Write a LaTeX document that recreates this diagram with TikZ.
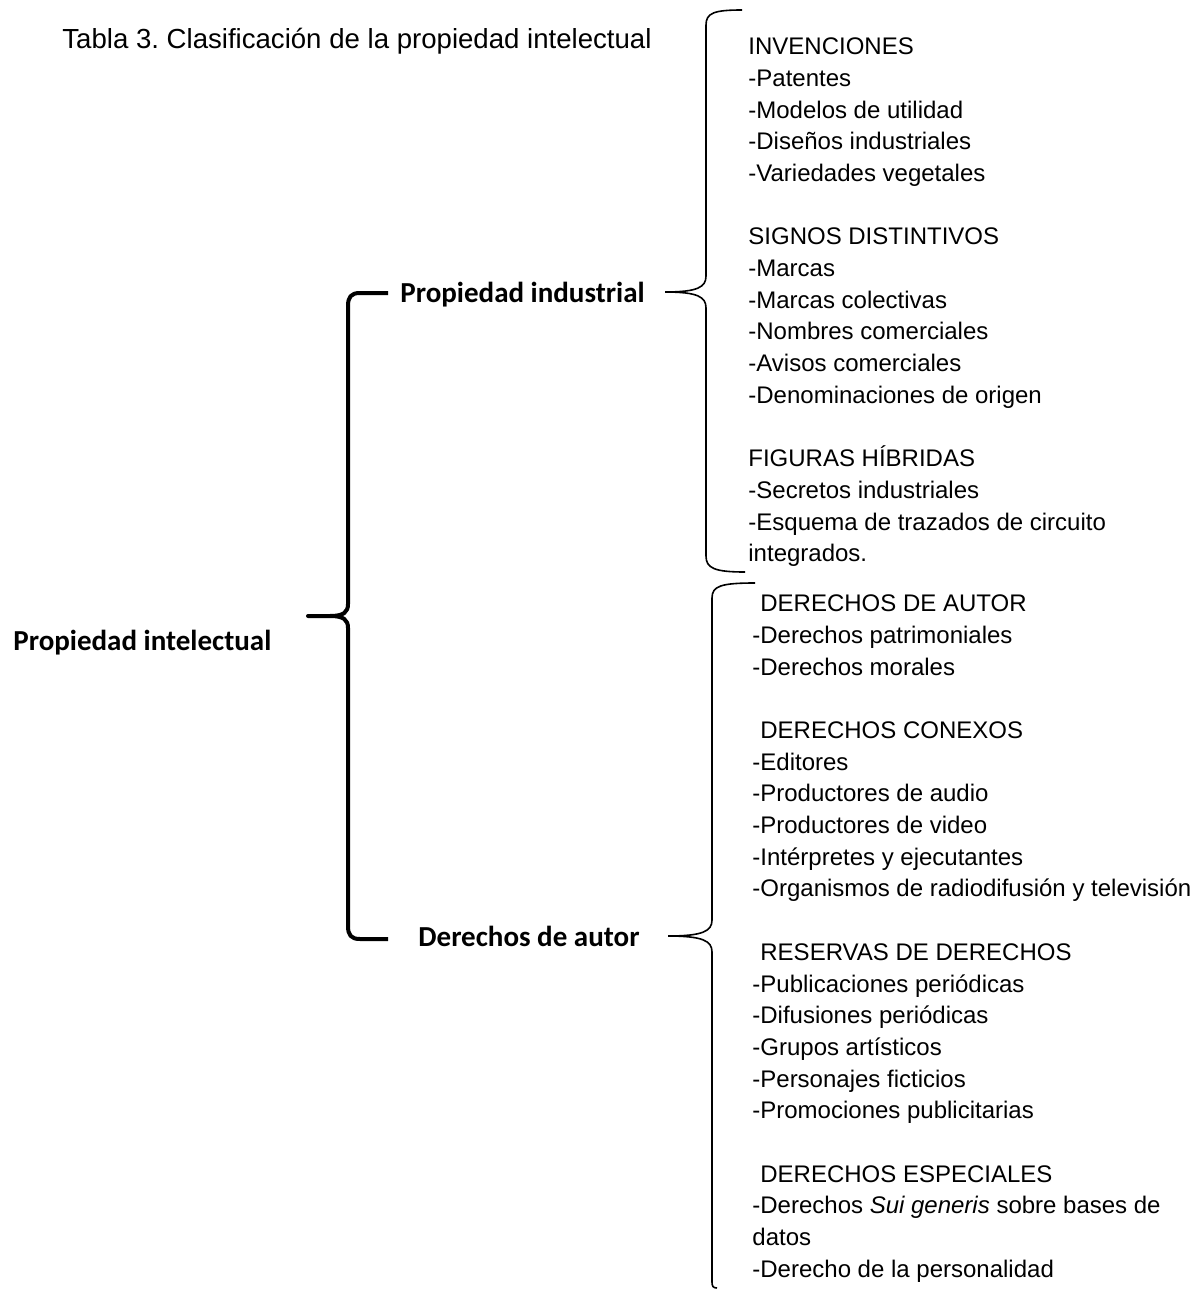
\documentclass[tikz,border=0pt]{standalone}
\usepackage{fontspec}
\setmainfont{Liberation Sans}
\newfontfamily\calibri{Carlito}
\usetikzlibrary{positioning}
\frenchspacing

\begin{document}
\begin{tikzpicture}[x=0.5pt, y=-0.5pt,
    lbl/.style={font=\calibri\bfseries\fontsize{14.5}{17}\selectfont, inner sep=0pt, anchor=base west},
    lst/.style={font=\fontsize{12}{15.85}\selectfont, align=left, inner sep=0pt, anchor=north west},
    bigbrace/.style={line width=2pt, line join=round},
    brace/.style={line width=0.8pt}]
  \useasboundingbox (0,0) rectangle (1197,1289);
  % Title
  \node[font=\fontsize{13.8}{16}\selectfont, inner sep=0pt, anchor=base west] (tabla) at (62,49)
    {Tabla 3. Clasificación de la propiedad intelectual};
  % Main labels
  \node[lbl] (propint) at (13,650) {Propiedad intelectual};
  \node[lbl] (propind) at (400,302) {Propiedad industrial};
  \node[lbl] (deraut) at (418,946) {Derechos de autor};
  % Big brace
  \draw[bigbrace] (388,293) -- (360,293) .. controls (351,293) and (348,297) .. (348,306)
    -- (348,604) .. controls (348,612) and (344,616) .. (330,616) -- (308,616)
    -- (330,616) .. controls (344,616) and (348,620) .. (348,628)
    -- (348,926) .. controls (348,935) and (351,939) .. (360,939) -- (388,939);
  % Brace of Propiedad industrial
  \draw[brace] (742,10) .. controls (714,10) and (706,13) .. (706,25)
    -- (706,276) .. controls (706,287) and (698,292) .. (665,292)
    .. controls (698,292) and (706,297) .. (706,308)
    -- (706,556) .. controls (706,568) and (714,572) .. (745,572);
  % Brace of Derechos de autor
  \draw[brace] (755,583) .. controls (721,583) and (712,586) .. (712,598)
    -- (712,920) .. controls (712,931) and (703,936) .. (668,936)
    .. controls (703,936) and (712,941) .. (712,952)
    -- (712,1282) .. controls (712,1286) and (713,1288) .. (717,1288);
  % Lists
  \node[lst] (listind) at (748,37.5) {INVENCIONES\\-Patentes\\-Modelos de utilidad\\-Diseños industriales\\-Variedades vegetales\\[15.85pt]
    SIGNOS DISTINTIVOS\\-Marcas\\-Marcas colectivas\\-Nombres comerciales\\-Avisos comerciales\\-Denominaciones de origen\\[15.85pt]
    FIGURAS HÍBRIDAS\\-Secretos industriales\\-Esquema de trazados de circuito\\integrados.};
  \node[lst] (listaut) at (752,594.5) {\hspace{4pt}DERECHOS DE AUTOR\\-Derechos patrimoniales\\-Derechos morales\\[15.85pt]
    \hspace{4pt}DERECHOS CONEXOS\\-Editores\\-Productores de audio\\-Productores de video\\-Intérpretes y ejecutantes\\-Organismos de radiodifusión y televisión\\[15.85pt]
    \hspace{4pt}RESERVAS DE DERECHOS\\-Publicaciones periódicas\\-Difusiones periódicas\\-Grupos artísticos\\-Personajes ficticios\\-Promociones publicitarias\\[15.85pt]
    \hspace{4pt}DERECHOS ESPECIALES\\-Derechos \textit{Sui generis} sobre bases de\\datos\\-Derecho de la personalidad};
\end{tikzpicture}
\end{document}
